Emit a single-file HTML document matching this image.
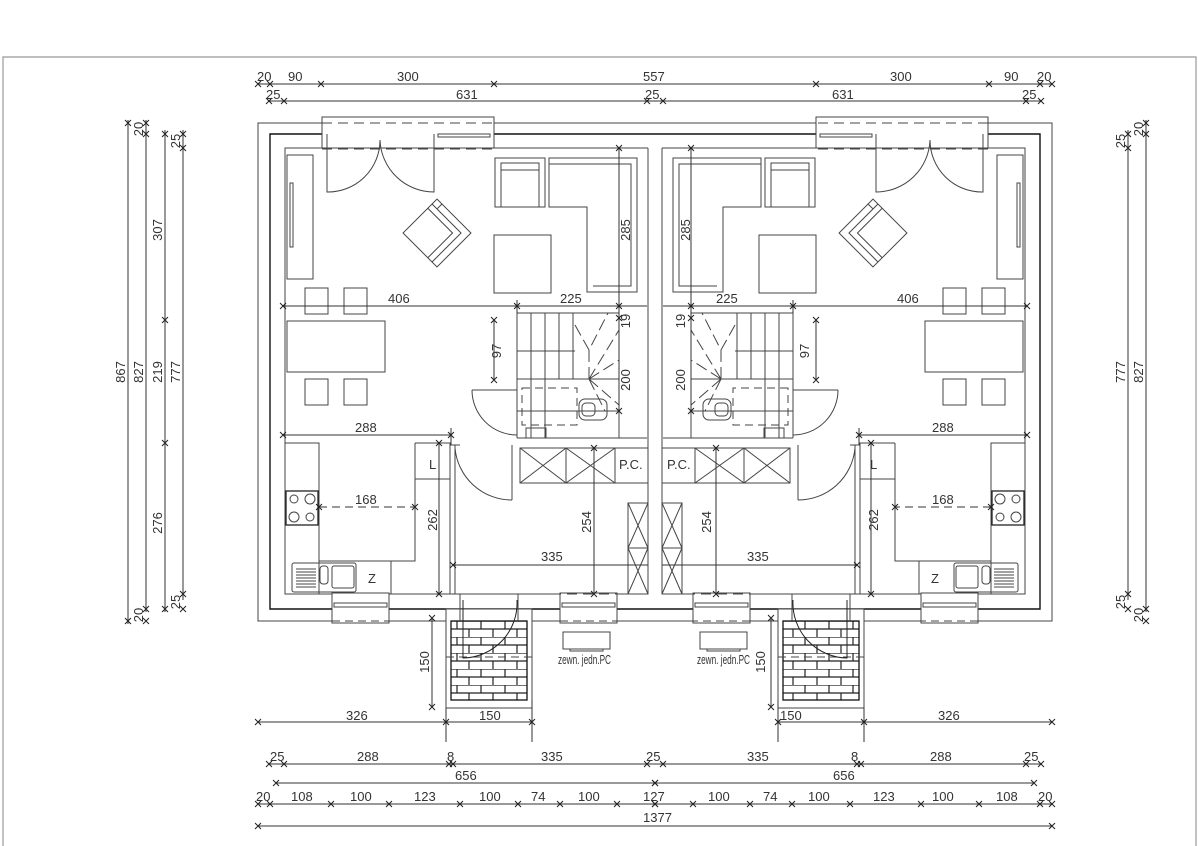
<!DOCTYPE html>
<html><head><meta charset="utf-8"><style>
html,body{margin:0;padding:0;background:#fff}
svg{display:block}
text{font-family:"Liberation Sans",sans-serif;font-size:13px;fill:#333}
</style></head><body>
<svg width="1198" height="846" viewBox="0 0 1198 846" xmlns="http://www.w3.org/2000/svg">
<defs>
<pattern id="brick" x="451" y="621" width="24" height="16" patternUnits="userSpaceOnUse">
<rect width="24" height="16" fill="#fff"/>
<path d="M0 0H24M0 8H24M6 0V8M18 8V16" stroke="#222" stroke-width="1.2" fill="none"/>
</pattern>
<g id="tk"><path d="M-3 3L3 -3M-3 -3L3 3" stroke="#222" stroke-width="1"/></g>
</defs>
<rect width="1198" height="846" fill="#fff"/>
<path d="M3 846V57H1196V846" fill="none" stroke="#999" stroke-width="1.2"/>

<g id="L" fill="none" stroke="#444" stroke-width="1">
 <path d="M655 123H258V621H655"/>
 <path d="M655 134H270V609H655" stroke="#111" stroke-width="1.4"/>
 <path d="M648 148H285V594H648"/>
 <path d="M648 148V594"/>
 <rect x="322" y="117" width="172" height="31" fill="#fff"/>
 <path d="M322 123H494M322 149H494" stroke-dasharray="10 6"/>
 <rect x="438" y="134" width="52" height="3"/>
 <path d="M327 134V192A52 52 0 0 0 380 140M434 134V192A54 54 0 0 1 380 140"/>
 <rect x="287" y="155" width="26" height="124"/>
 <rect x="290" y="183" width="3" height="64"/>
 <g transform="translate(437,233) rotate(45)">
  <rect x="-24" y="-24" width="48" height="48"/>
  <path d="M-24 -17H17V24M-17 -17V-24"/>
  <path d="M-24 -11H11V24"/>
 </g>
 <rect x="495" y="158" width="50" height="49"/>
 <path d="M501 207V163H539V207M501 170H539"/>
 <path d="M549 158H637V292H587V207H549Z"/>
 <path d="M549 164H631V286H593"/>
 <rect x="494" y="235" width="57" height="58"/>
 <rect x="305" y="288" width="23" height="26"/><rect x="344" y="288" width="23" height="26"/>
 <rect x="287" y="321" width="98" height="51"/>
 <rect x="305" y="379" width="23" height="26"/><rect x="344" y="379" width="23" height="26"/>
 <path d="M517 313H619M517 313V438M517 351H575M517 379H619M531 313V438M545 313V438M559 313V379M573 313V379"/>
 <path d="M575 325L589 350L608 313M589 350V379M589 379L619 330M589 379L619 360M589 379L619 405M589 379L605 411" stroke-dasharray="12 5"/>
 <path d="M517 411H619M619 313V438"/>
 <rect x="522" y="388" width="55" height="37" stroke-dasharray="8 5"/>
 <rect x="579" y="399" width="28" height="21" rx="6"/>
 <rect x="582" y="403" width="13" height="13" rx="4"/>
 <rect x="526" y="428" width="20" height="10"/>
 <path d="M517 438H647"/>
 <path d="M472 390H517M472 390A45 45 0 0 0 517 435"/>
 <rect x="520" y="448" width="95" height="35"/>
 <path d="M520 448L566 483M566 448L520 483M566 448L615 483M615 448L566 483M566 448V483"/>
 <rect x="615" y="448" width="33" height="35"/>
 <rect x="628" y="503" width="20" height="91"/>
 <path d="M628 503L648 548M648 503L628 548M628 548L648 594M648 548L628 594M628 548H648"/>
 <path d="M285 443H319V594M415 443H450V479H415M415 443V561H319"/>
 <rect x="286" y="491" width="32" height="34" stroke="#222" stroke-width="1.3"/>
 <circle cx="294" cy="499" r="4"/><circle cx="310" cy="499" r="5"/><circle cx="294" cy="517" r="5"/><circle cx="310" cy="517" r="4"/>
 <rect x="292" y="563" width="64" height="29" rx="2"/>
 <path d="M296 569H316M296 572H316M296 575H316M296 578H316M296 581H316M296 584H316M296 587H316"/>
 <rect x="320" y="566" width="8" height="18" rx="3"/>
 <rect x="332" y="566" width="22" height="22" rx="2"/>
 <path d="M353 561H391V594"/>
 <path d="M450 445V594M455 445V594M450 445H460M455 445H460"/>
 <path d="M512 445V500M455 448A57 57 0 0 0 512 500"/>
 <rect x="332" y="593" width="57" height="30" fill="#fff"/>
 <rect x="334" y="603" width="53" height="4"/>
 <path d="M332 621H389" stroke-dasharray="8 5"/>
 <rect x="560" y="593" width="57" height="30" fill="#fff"/>
 <rect x="562" y="603" width="53" height="4"/>
 <path d="M560 621H617" stroke-dasharray="8 5"/>
 <path d="M455 594H648" stroke-dasharray="10 6"/>
 <rect x="446" y="609" width="86" height="99" fill="#fff"/>
 <rect x="451" y="621" width="76" height="79" fill="url(#brick)" stroke="#111" stroke-width="1.3"/>
 <path d="M446 657H532" stroke-dasharray="8 5"/>
 <path d="M460 594V621M518 594V621"/>
 <path d="M463 600V658A55 55 0 0 0 517 600" stroke="#222"/>
 <rect x="563" y="632" width="47" height="17"/>
 <rect x="570" y="649" width="33" height="2"/>
 <g stroke="#333">
 <path d="M283 306H647M517 300V313"/>
 <path d="M619 148V411"/>
 <path d="M494 320V380"/>
 <path d="M283 435H451M451 428V445"/>
 <path d="M319 507H415" stroke-dasharray="8 5"/>
 <path d="M439 443V594"/>
 <path d="M594 448V594"/>
 <path d="M453 565H648"/>
 <path d="M258 722H532M446 708V742M532 700V742"/>
 </g>
 <use href="#tk" x="283" y="306"/><use href="#tk" x="517" y="306"/><use href="#tk" x="619" y="306"/>
 <use href="#tk" x="619" y="148"/><use href="#tk" x="619" y="318"/><use href="#tk" x="619" y="411"/>
 <use href="#tk" x="494" y="320"/><use href="#tk" x="494" y="380"/>
 <use href="#tk" x="283" y="435"/><use href="#tk" x="451" y="435"/>
 <use href="#tk" x="319" y="507"/><use href="#tk" x="415" y="507"/>
 <use href="#tk" x="439" y="443"/><use href="#tk" x="439" y="594"/>
 <use href="#tk" x="594" y="448"/><use href="#tk" x="594" y="594"/>
 <use href="#tk" x="453" y="565"/>
 <use href="#tk" x="258" y="722"/><use href="#tk" x="446" y="722"/><use href="#tk" x="532" y="722"/>
 <path d="M258 84H655M268 101H655" stroke="#333"/>
 <use href="#tk" x="258" y="84"/><use href="#tk" x="270" y="84"/><use href="#tk" x="321" y="84"/><use href="#tk" x="494" y="84"/>
 <use href="#tk" x="269" y="101"/><use href="#tk" x="284" y="101"/><use href="#tk" x="647" y="101"/>
 <path d="M268 764H655M276 783H655M258 804H655M258 826H655" stroke="#333"/>
 <use href="#tk" x="269" y="764"/><use href="#tk" x="284" y="764"/><use href="#tk" x="449" y="764"/><use href="#tk" x="453" y="764"/><use href="#tk" x="647" y="764"/>
 <use href="#tk" x="276" y="783"/><use href="#tk" x="655" y="783"/>
 <use href="#tk" x="258" y="804"/><use href="#tk" x="270" y="804"/><use href="#tk" x="331" y="804"/><use href="#tk" x="389" y="804"/><use href="#tk" x="460" y="804"/><use href="#tk" x="518" y="804"/><use href="#tk" x="560" y="804"/><use href="#tk" x="617" y="804"/><use href="#tk" x="655" y="804"/>
 <use href="#tk" x="258" y="826"/>
</g>
<use href="#L" transform="translate(1310,0) scale(-1,1)"/>

<!-- porch vertical dims (both on left side of porches) -->
<path d="M432 618V707M771 618V707" stroke="#333" fill="none"/>
<use href="#tk" x="432" y="618"/><use href="#tk" x="432" y="707"/>
<use href="#tk" x="771" y="618"/><use href="#tk" x="771" y="707"/>

<g stroke="#333" fill="none">
 <path d="M128 120V624M146 120V612M165 130V612M183 130V600"/>
 <path d="M1128 130V600M1146 120V612"/>
</g>
<use href="#tk" x="128" y="123"/><use href="#tk" x="128" y="621"/>
<use href="#tk" x="146" y="123"/><use href="#tk" x="146" y="134"/><use href="#tk" x="146" y="609"/><use href="#tk" x="146" y="621"/>
<use href="#tk" x="165" y="134"/><use href="#tk" x="165" y="320"/><use href="#tk" x="165" y="443"/><use href="#tk" x="165" y="609"/>
<use href="#tk" x="183" y="134"/><use href="#tk" x="183" y="148"/><use href="#tk" x="183" y="594"/><use href="#tk" x="183" y="609"/>
<use href="#tk" x="1128" y="134"/><use href="#tk" x="1128" y="148"/><use href="#tk" x="1128" y="594"/><use href="#tk" x="1128" y="609"/>
<use href="#tk" x="1146" y="123"/><use href="#tk" x="1146" y="134"/><use href="#tk" x="1146" y="609"/><use href="#tk" x="1146" y="621"/>

<g>
<text x="257" y="81">20</text><text x="288" y="81">90</text><text x="397" y="81">300</text><text x="643" y="81">557</text>
<text x="890" y="81">300</text><text x="1004" y="81">90</text><text x="1037" y="81">20</text>
<text x="266" y="99">25</text><text x="456" y="99">631</text><text x="645" y="99">25</text><text x="832" y="99">631</text><text x="1022" y="99">25</text>
<text x="388" y="303">406</text><text x="560" y="303">225</text><text x="716" y="303">225</text><text x="897" y="303">406</text>
<text x="355" y="432">288</text><text x="932" y="432">288</text>
<text x="355" y="504">168</text><text x="932" y="504">168</text>
<text x="541" y="561">335</text><text x="747" y="561">335</text>
<text x="429" y="469">L</text><text x="870" y="469">L</text>
<text x="368" y="583">Z</text><text x="931" y="583">Z</text>
<text x="619" y="469">P.C.</text><text x="667" y="469">P.C.</text>
<text x="346" y="720">326</text><text x="479" y="720">150</text><text x="780" y="720">150</text><text x="938" y="720">326</text>
<text x="270" y="761">25</text><text x="357" y="761">288</text><text x="447" y="761">8</text><text x="541" y="761">335</text><text x="646" y="761">25</text>
<text x="747" y="761">335</text><text x="851" y="761">8</text><text x="930" y="761">288</text><text x="1024" y="761">25</text>
<text x="455" y="780">656</text><text x="833" y="780">656</text>
<text x="256" y="801">20</text><text x="291" y="801">108</text><text x="350" y="801">100</text><text x="414" y="801">123</text><text x="479" y="801">100</text>
<text x="531" y="801">74</text><text x="578" y="801">100</text><text x="643" y="801">127</text><text x="708" y="801">100</text><text x="763" y="801">74</text>
<text x="808" y="801">100</text><text x="873" y="801">123</text><text x="932" y="801">100</text><text x="996" y="801">108</text><text x="1038" y="801">20</text>
<text x="643" y="822">1377</text>
<g style="font-size:9px"><text x="558" y="664" textLength="53" lengthAdjust="spacingAndGlyphs">zewn. jedn.PC</text><text x="697" y="664" textLength="53" lengthAdjust="spacingAndGlyphs">zewn. jedn.PC</text></g>
<text transform="translate(630,230) rotate(-90)" text-anchor="middle">285</text>
<text transform="translate(690,230) rotate(-90)" text-anchor="middle">285</text>
<text transform="translate(501,351) rotate(-90)" text-anchor="middle">97</text>
<text transform="translate(809,351) rotate(-90)" text-anchor="middle">97</text>
<text transform="translate(630,321) rotate(-90)" text-anchor="middle">19</text>
<text transform="translate(685,321) rotate(-90)" text-anchor="middle">19</text>
<text transform="translate(630,380) rotate(-90)" text-anchor="middle">200</text>
<text transform="translate(685,380) rotate(-90)" text-anchor="middle">200</text>
<text transform="translate(437,520) rotate(-90)" text-anchor="middle">262</text>
<text transform="translate(878,520) rotate(-90)" text-anchor="middle">262</text>
<text transform="translate(591,522) rotate(-90)" text-anchor="middle">254</text>
<text transform="translate(711,522) rotate(-90)" text-anchor="middle">254</text>
<text transform="translate(429,662) rotate(-90)" text-anchor="middle">150</text>
<text transform="translate(765,662) rotate(-90)" text-anchor="middle">150</text>
<text transform="translate(125,372) rotate(-90)" text-anchor="middle">867</text>
<text transform="translate(143,372) rotate(-90)" text-anchor="middle">827</text>
<text transform="translate(162,372) rotate(-90)" text-anchor="middle">219</text>
<text transform="translate(180,372) rotate(-90)" text-anchor="middle">777</text>
<text transform="translate(162,230) rotate(-90)" text-anchor="middle">307</text>
<text transform="translate(162,523) rotate(-90)" text-anchor="middle">276</text>
<text transform="translate(143,129) rotate(-90)" text-anchor="middle">20</text>
<text transform="translate(180,141) rotate(-90)" text-anchor="middle">25</text>
<text transform="translate(143,615) rotate(-90)" text-anchor="middle">20</text>
<text transform="translate(180,602) rotate(-90)" text-anchor="middle">25</text>
<text transform="translate(1125,372) rotate(-90)" text-anchor="middle">777</text>
<text transform="translate(1143,372) rotate(-90)" text-anchor="middle">827</text>
<text transform="translate(1125,141) rotate(-90)" text-anchor="middle">25</text>
<text transform="translate(1143,129) rotate(-90)" text-anchor="middle">20</text>
<text transform="translate(1125,602) rotate(-90)" text-anchor="middle">25</text>
<text transform="translate(1143,615) rotate(-90)" text-anchor="middle">20</text>
</g>
</svg>
</body></html>
